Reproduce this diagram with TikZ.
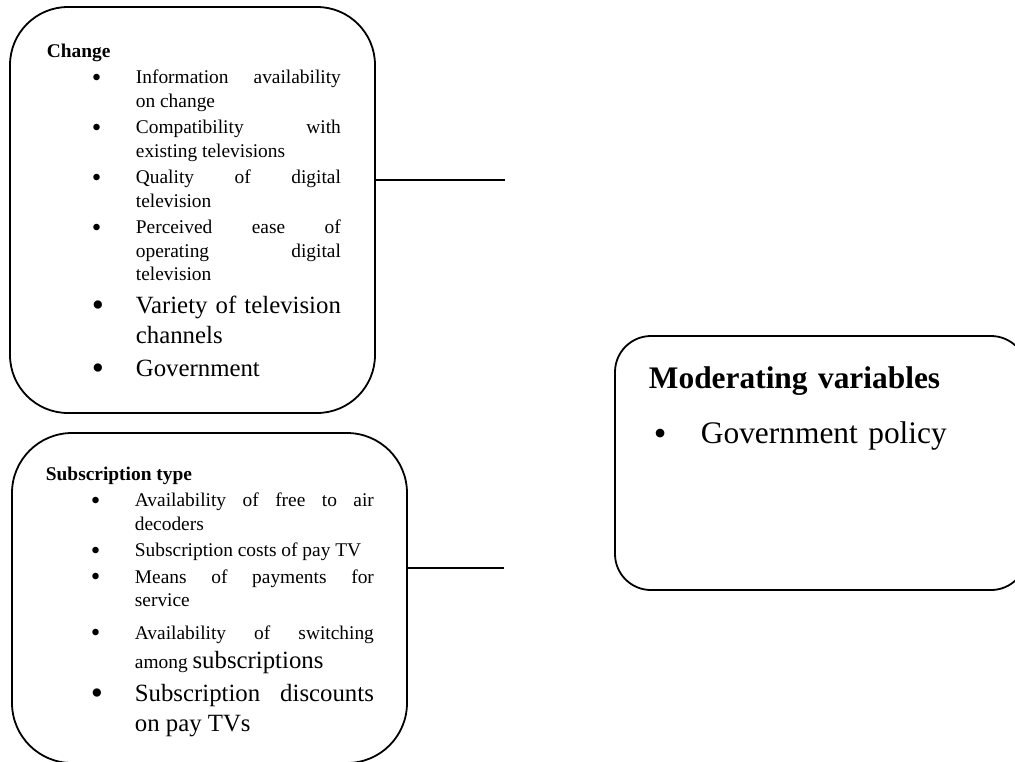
\documentclass[tikz,border=0pt]{standalone}
\usepackage{fontspec}
\setmainfont{Liberation Serif}
\usepackage{graphicx}
\usepackage{tikz}

\newcommand{\smallsz}{\fontsize{9.7}{11.75}\selectfont}
\newcommand{\largesz}{\fontsize{12.4}{15}\selectfont}
\newcommand{\bul}{\raisebox{-0.12em}{\scalebox{1.4}{\textbullet}}}
% bullet paragraph with hanging indent: #1 font, #2 text
\newcommand{\itm}[2]{\par\vspace{1.5pt}#1\hangindent=44.5pt\hangafter=1\noindent
    \hspace*{22.5pt}\makebox[22pt][l]{\bul}#2\par}

\begin{document}
\begin{tikzpicture}[
        x=0.5pt, y=-0.5pt,
        line width=0.9pt,
        varbox/.style={draw, rectangle, inner sep=0pt},
        boxtext/.style={anchor=north west, inner sep=0pt, align=justify, font=\smallsz}
        ]
        \useasboundingbox (0,0) rectangle (1015,761);
        \clip (0,0) rectangle (1015,761);

        \node[varbox, minimum width=182.5pt, minimum height=203pt, rounded corners=29pt] (change) at (192.5,210) {};
        \node[varbox, minimum width=197.5pt, minimum height=165pt, rounded corners=30pt] (subs) at (209.5,598) {};
        \node[varbox, minimum width=206pt, minimum height=127pt, rounded corners=18pt] (moder) at (821,463) {};

        \node[boxtext, text width=147pt] (changetxt) at (46,43) {%
            \tolerance=10000 \hbadness=10000 \hyphenpenalty=10000
            \noindent\textbf{Change}
            \itm{\smallsz}{Information availability\linebreak on change}
            \itm{\smallsz}{Compatibility with\linebreak existing televisions}
            \itm{\smallsz}{Quality of digital\linebreak television}
            \itm{\smallsz}{Perceived ease of\linebreak operating digital\linebreak television}
            \itm{\largesz}{Variety of television\linebreak channels}
            \itm{\largesz}{Government}};

        \node[boxtext, text width=164pt] (substxt) at (45,466) {%
            \tolerance=10000 \hbadness=10000 \hyphenpenalty=10000
            \noindent\textbf{Subscription type}
            \itm{\smallsz}{Availability of free to air\linebreak decoders}
            \itm{\smallsz}{Subscription costs of pay TV}
            \itm{\smallsz}{Means of payments for\linebreak service}
            \vspace{3pt}
            \itm{\smallsz}{Availability of switching\linebreak among \rule{0pt}{11.5pt}{\largesz subscriptions}}
            \itm{\largesz}{Subscription discounts\linebreak on pay TVs}};

        \node[anchor=north west, inner sep=0pt, text width=190pt, font=\fontsize{15.7}{20}\selectfont] (modertxt) at (648,366) {%
            \noindent\textbf{Moderating variables}\\[7.5pt]
            \hspace*{2.5pt}\makebox[23.5pt][l]{\raisebox{-0.05em}{\scalebox{1.15}{\textbullet}}}Government policy};

        \coordinate (c1) at (505,180);
        \coordinate (c2) at (504,568);
        \draw (change.east |- c1) -- (c1);
        \draw (subs.east |- c2) -- (c2);
\end{tikzpicture}
\end{document}
